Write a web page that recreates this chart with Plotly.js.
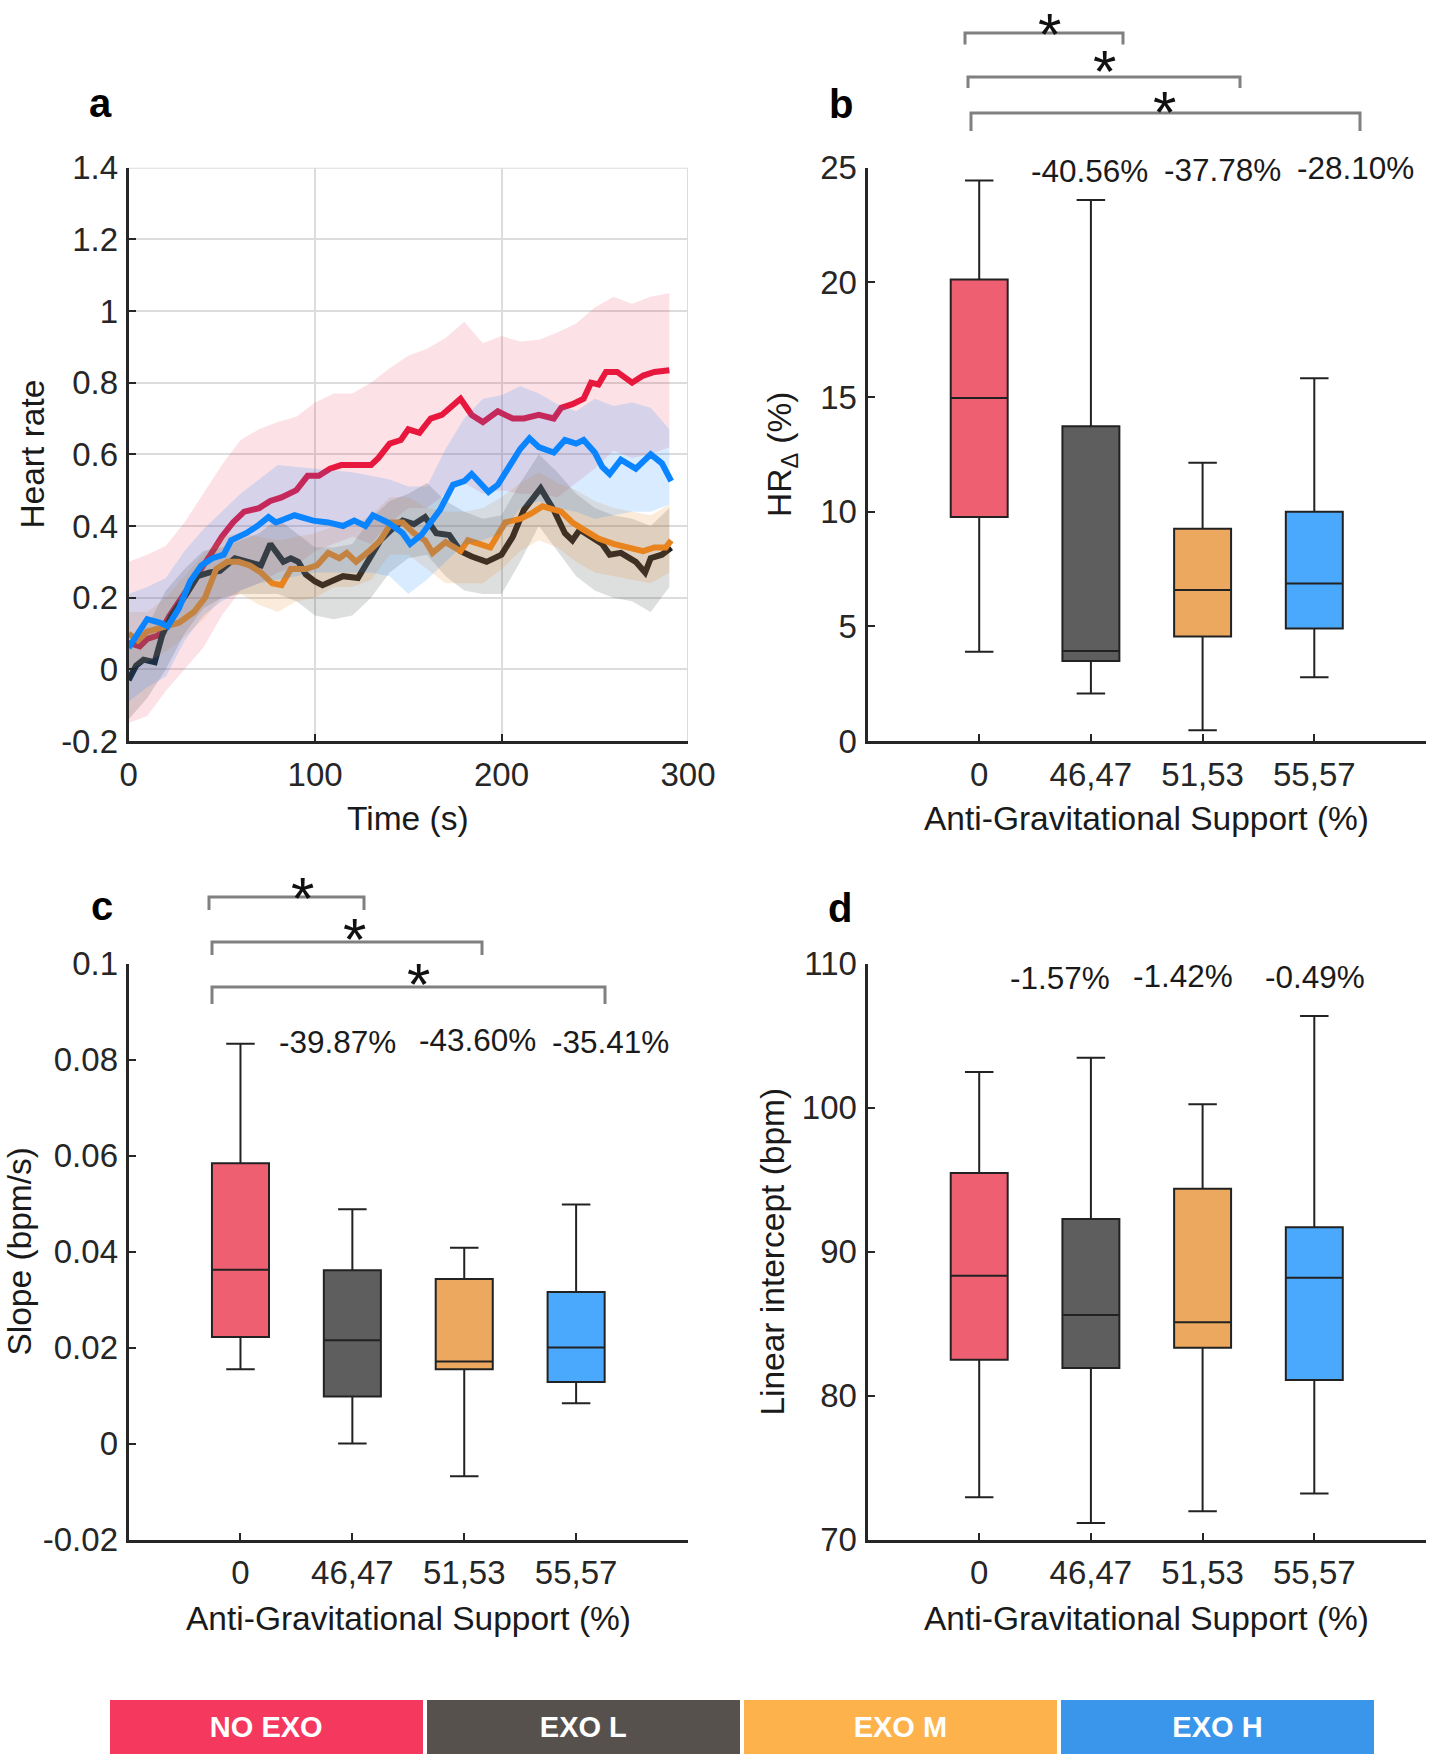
<!DOCTYPE html>
<html><head><meta charset="utf-8">
<script src="https://cdn.plot.ly/plotly-3.0.1.min.js"></script>
<style>html,body{margin:0;padding:0;background:#fff}#chart{width:1431px;height:1757px}</style>
</head><body><div id="chart"></div>
<script>
const W = 1431, H = 1757;

// ---------- Panel a: mean normalised heart rate over time ----------
const noExoT = [0,6,10,16,22,30,38,44,50,56,62,70,76,82,90,96,102,108,114,122,130,134,140,146,150,156,162,168,172,178,184,190,198,206,212,220,228,232,238,244,248,252,256,262,270,276,282,290];
const noExoY = [0.074,0.064,0.085,0.095,0.15,0.21,0.27,0.32,0.37,0.41,0.44,0.45,0.47,0.48,0.50,0.54,0.54,0.56,0.57,0.57,0.57,0.59,0.63,0.64,0.67,0.66,0.70,0.71,0.73,0.755,0.71,0.69,0.72,0.70,0.70,0.71,0.70,0.73,0.74,0.755,0.80,0.795,0.83,0.83,0.80,0.82,0.83,0.835];

const exoLT = [0,4,8,14,18,23,31,37,43,49,57,65,71,76,79,83,87,91,95,100,104,109,115,123,129,135,141,147,153,159,165,172,178,184,192,200,206,212,221,228,234,238,242,248,254,258,264,272,277,280,286,291];
const exoLY = [-0.03,0.01,0.027,0.02,0.095,0.15,0.21,0.26,0.27,0.275,0.31,0.30,0.29,0.35,0.33,0.30,0.31,0.30,0.265,0.245,0.235,0.245,0.26,0.255,0.31,0.36,0.39,0.415,0.405,0.425,0.38,0.375,0.33,0.315,0.30,0.32,0.37,0.445,0.505,0.445,0.38,0.36,0.39,0.37,0.35,0.32,0.325,0.30,0.27,0.31,0.32,0.34];

const exoMT = [0,5,10,19,27,35,41,47,53,59,65,71,77,82,87,95,101,107,113,117,122,129,135,141,147,153,159,163,170,178,182,188,194,202,210,216,222,232,238,244,252,260,268,276,282,288,291];
const exoMY = [0.10,0.08,0.105,0.12,0.13,0.16,0.20,0.28,0.30,0.30,0.29,0.27,0.24,0.235,0.28,0.28,0.29,0.325,0.31,0.325,0.30,0.33,0.36,0.41,0.41,0.38,0.36,0.325,0.355,0.33,0.36,0.35,0.34,0.41,0.42,0.435,0.455,0.44,0.41,0.39,0.365,0.35,0.34,0.33,0.34,0.34,0.36];

const exoHT = [0,4,10,17,21,27,33,39,45,51,55,63,69,75,79,89,99,107,115,121,127,131,139,147,151,157,163,167,174,180,184,188,193,198,204,210,215,220,228,234,240,244,250,254,258,264,272,280,286,291];
const exoHY = [0.06,0.095,0.14,0.13,0.12,0.17,0.245,0.29,0.31,0.32,0.36,0.38,0.40,0.425,0.41,0.43,0.415,0.41,0.40,0.415,0.40,0.43,0.41,0.38,0.35,0.375,0.415,0.445,0.515,0.525,0.545,0.52,0.495,0.515,0.565,0.615,0.645,0.62,0.605,0.64,0.63,0.64,0.605,0.565,0.545,0.585,0.56,0.60,0.575,0.525];

// shaded bands (upper / lower bounds)
const bandT = [0,10,20,30,40,50,60,70,80,90,100,110,120,130,140,150,160,170,180,190,200,210,220,230,240,250,260,270,280,290];
const noExoUp = [0.30,0.32,0.345,0.41,0.49,0.57,0.64,0.67,0.69,0.705,0.745,0.77,0.77,0.80,0.84,0.875,0.895,0.925,0.97,0.91,0.93,0.915,0.92,0.94,0.965,1.01,1.04,1.02,1.04,1.05];
const noExoLo = [-0.15,-0.13,-0.06,0.0,0.06,0.15,0.22,0.24,0.27,0.29,0.33,0.35,0.37,0.35,0.41,0.45,0.45,0.49,0.52,0.49,0.50,0.49,0.49,0.48,0.52,0.56,0.61,0.59,0.60,0.62];
const exoLUp = [0.08,0.12,0.22,0.28,0.33,0.34,0.36,0.38,0.42,0.38,0.34,0.34,0.35,0.42,0.47,0.49,0.52,0.47,0.44,0.42,0.43,0.52,0.60,0.55,0.49,0.45,0.43,0.42,0.40,0.45];
const exoLLo = [-0.14,-0.08,0.0,0.10,0.17,0.20,0.21,0.21,0.21,0.19,0.15,0.14,0.15,0.20,0.27,0.31,0.32,0.26,0.22,0.21,0.21,0.30,0.40,0.33,0.26,0.22,0.20,0.19,0.16,0.23];
const exoMUp = [0.16,0.16,0.20,0.26,0.32,0.37,0.38,0.37,0.36,0.37,0.38,0.40,0.40,0.43,0.48,0.48,0.45,0.44,0.44,0.45,0.48,0.52,0.55,0.52,0.50,0.47,0.45,0.44,0.43,0.46];
const exoMLo = [0.0,0.02,0.05,0.09,0.14,0.20,0.21,0.18,0.16,0.19,0.20,0.23,0.23,0.25,0.32,0.32,0.28,0.24,0.24,0.24,0.28,0.33,0.36,0.34,0.30,0.27,0.26,0.25,0.24,0.27];
const exoHUp = [0.21,0.23,0.255,0.33,0.39,0.44,0.49,0.53,0.57,0.565,0.56,0.555,0.55,0.54,0.53,0.51,0.51,0.615,0.70,0.755,0.765,0.79,0.77,0.74,0.72,0.755,0.735,0.745,0.73,0.67];
const exoHLo = [-0.09,-0.05,-0.02,0.08,0.15,0.19,0.22,0.24,0.25,0.26,0.27,0.27,0.27,0.27,0.26,0.21,0.25,0.30,0.35,0.36,0.38,0.45,0.47,0.45,0.44,0.42,0.43,0.44,0.44,0.46];

const timeTicks = [0,100,200,300];
const timeTickText = ['0','100','200','300'];
const hrTicks = [-0.2,0,0.2,0.4,0.6,0.8,1,1.2,1.4];
const hrTickText = ['-0.2','0','0.2','0.4','0.6','0.8','1','1.2','1.4'];

// ---------- Box plots ----------
const groups = ['NO EXO','EXO L','EXO M','EXO H'];
const supportPos = [1,2,3,4];
const supportLabels = ['0','46,47','51,53','55,57'];

const hrdLow  = [3.89, 2.07, 0.47, 2.78];
const hrdQ1   = [9.77, 3.49, 4.56, 4.91];
const hrdMed  = [14.96, 3.92, 6.58, 6.87];
const hrdQ3   = [20.13, 13.72, 9.26, 10.0];
const hrdHigh = [24.44, 23.59, 12.13, 15.82];
const hrdTicks = [0,5,10,15,20,25];
const hrdPct = ['-40.56%','-37.78%','-28.10%'];

const slopeLow  = [0.0155, 0.0, -0.0068, 0.0084];
const slopeQ1   = [0.0222, 0.0098, 0.0155, 0.0128];
const slopeMed  = [0.0362, 0.0215, 0.0171, 0.0200];
const slopeQ3   = [0.0584, 0.0361, 0.0343, 0.0316];
const slopeHigh = [0.0833, 0.0488, 0.0408, 0.0498];
const slopeTicks = [-0.02,0,0.02,0.04,0.06,0.08,0.1];
const slopeTickText = ['-0.02','0','0.02','0.04','0.06','0.08','0.1'];
const slopePct = ['-39.87%','-43.60%','-35.41%'];

const icLow  = [72.93, 71.15, 71.96, 73.2];
const icQ1   = [82.48, 81.92, 83.32, 81.08];
const icMed  = [88.33, 85.6, 85.1, 88.18];
const icQ3   = [95.46, 92.26, 94.37, 91.7];
const icHigh = [102.47, 103.46, 100.23, 106.36];
const icTicks = [70,80,90,100,110];
const icPct = ['-1.57%','-1.42%','-0.49%'];

// ---------- styling ----------
const lineColors = ['#E8173D','#1E2124','#E8831E','#0A84FF'];
const bandColors = ['rgba(232,23,61,0.13)','rgba(30,33,36,0.15)','rgba(232,131,30,0.16)','rgba(10,132,255,0.155)'];
const boxColors = ['#EE5F72','#5E5E5E','#ECA85E','#4AA9FC'];
const keyColors = ['#F5385E','#57514E','#FEB24C','#3996EA'];

const SANS = '"Liberation Sans", Arial, Helvetica, sans-serif';
const TXT = '#1a1a1a';
const TICK = 33, TITLE = 33.5, PCT = 31.5;

const px = x => x / W;
const py = y => 1 - y / H;

const traces = [];
const series = [
  {t: noExoT, y: noExoY, up: noExoUp, lo: noExoLo, c: 0},
  {t: exoLT, y: exoLY, up: exoLUp, lo: exoLLo, c: 1},
  {t: exoMT, y: exoMY, up: exoMUp, lo: exoMLo, c: 2},
  {t: exoHT, y: exoHY, up: exoHUp, lo: exoHLo, c: 3}
];
series.forEach(s => {
  traces.push({
    type: 'scatter', mode: 'lines', xaxis: 'x', yaxis: 'y',
    x: bandT.concat(bandT.slice().reverse()),
    y: s.up.concat(s.lo.slice().reverse()),
    fill: 'toself', fillcolor: bandColors[s.c],
    line: {color: 'rgba(0,0,0,0)', width: 0}, showlegend: false, hoverinfo: 'skip'
  });
  traces.push({
    type: 'scatter', mode: 'lines', xaxis: 'x', yaxis: 'y',
    x: s.t, y: s.y, line: {color: lineColors[s.c], width: 6},
    name: groups[s.c], showlegend: false
  });
});

function addBoxes(ax, ay, lo, q1, med, q3, hi) {
  for (let i = 0; i < 4; i++) {
    traces.push({
      type: 'box', xaxis: ax, yaxis: ay,
      x: [supportPos[i]], q1: [q1[i]], median: [med[i]], q3: [q3[i]],
      lowerfence: [lo[i]], upperfence: [hi[i]],
      width: 0.51, whiskerwidth: 0.5,
      fillcolor: boxColors[i], line: {color: '#222222', width: 2},
      boxpoints: false, name: groups[i], showlegend: false
    });
  }
}
addBoxes('x2','y2', hrdLow, hrdQ1, hrdMed, hrdQ3, hrdHigh);
addBoxes('x3','y3', slopeLow, slopeQ1, slopeMed, slopeQ3, slopeHigh);
addBoxes('x4','y4', icLow, icQ1, icMed, icQ3, icHigh);

// colour key along the bottom
traces.push({
  type: 'bar', xaxis: 'x5', yaxis: 'y5',
  x: [0,1,2,3], y: groups.map(() => 1), width: 0.988,
  marker: {color: keyColors, line: {width: 0}},
  text: groups, textposition: 'inside', insidetextanchor: 'middle',
  textfont: {family: SANS, size: 29, color: '#ffffff', weight: 'bold'},
  textangle: 0, showlegend: false, hoverinfo: 'skip'
});

const leftX = [px(128.6), px(688)];
const rightX = [px(867.5), px(1426)];
const topY = [py(741), py(167.7)];
const botY = [py(1539.5), py(963.7)];

function baseAxis(extra) {
  return Object.assign({
    showline: true, linecolor: '#262626', linewidth: 3,
    ticks: 'inside', ticklen: 7, tickwidth: 2, tickcolor: '#262626',
    tickfont: {family: SANS, size: TICK, color: '#262626'},
    zeroline: false, showgrid: false, fixedrange: true, tickmode: 'array'
  }, extra);
}
const XS = 2, YS = 1;

const layout = {
  width: W, height: H, margin: {l: 0, r: 0, t: 0, b: 0},
  paper_bgcolor: '#ffffff', plot_bgcolor: 'rgba(0,0,0,0)',
  showlegend: false, hovermode: false, bargap: 0,
  font: {family: SANS, color: TXT},
  xaxis: baseAxis({domain: leftX, anchor: 'y', range: [0,300], tickvals: timeTicks, ticktext: timeTickText,
    showgrid: true, gridcolor: '#dcdcdc', gridwidth: 2, ticklabelstandoff: XS}),
  yaxis: baseAxis({domain: topY, anchor: 'x', range: [-0.2,1.4], tickvals: hrTicks, ticktext: hrTickText,
    showgrid: true, gridcolor: '#dcdcdc', gridwidth: 2, ticklabelstandoff: YS}),
  xaxis2: baseAxis({domain: rightX, anchor: 'y2', range: [0,5], tickvals: supportPos, ticktext: supportLabels, ticklabelstandoff: XS}),
  yaxis2: baseAxis({domain: topY, anchor: 'x2', range: [0,25], tickvals: hrdTicks, ticktext: hrdTicks.map(String), ticklabelstandoff: YS}),
  xaxis3: baseAxis({domain: leftX, anchor: 'y3', range: [0,5], tickvals: supportPos, ticktext: supportLabels, ticklabelstandoff: XS}),
  yaxis3: baseAxis({domain: botY, anchor: 'x3', range: [-0.02,0.1], tickvals: slopeTicks, ticktext: slopeTickText, ticklabelstandoff: YS}),
  xaxis4: baseAxis({domain: rightX, anchor: 'y4', range: [0,5], tickvals: supportPos, ticktext: supportLabels, ticklabelstandoff: XS}),
  yaxis4: baseAxis({domain: botY, anchor: 'x4', range: [70,110], tickvals: icTicks, ticktext: icTicks.map(String), ticklabelstandoff: YS}),
  xaxis5: {domain: [px(107.7), px(1376)], anchor: 'y5', range: [-0.5,3.5], visible: false, fixedrange: true},
  yaxis5: {domain: [py(1754), py(1700)], anchor: 'x5', range: [0,1], visible: false, fixedrange: true},
  shapes: [],
  annotations: []
};

// grid lines at the top/right border of panel a
layout.shapes.push({type: 'line', xref: 'x', yref: 'y', x0: 0, x1: 300, y0: 1.4, y1: 1.4, line: {color: '#dcdcdc', width: 2}, layer: 'below'});
layout.shapes.push({type: 'line', xref: 'x', yref: 'y', x0: 300, x1: 300, y0: -0.2, y1: 1.4, line: {color: '#dcdcdc', width: 2}, layer: 'below'});

// significance brackets (pixel positions on the page)
const brackets = [
  [965,1123,33,44.5],[968,1240,77,88],[971,1360,113,131],
  [209,364,897,910],[212,482,942,955],[212,605,987,1004]
];
brackets.forEach(b => {
  const [x0,x1,y,yd] = b;
  layout.shapes.push({
    type: 'path', xref: 'paper', yref: 'paper',
    path: `M ${px(x0)} ${py(yd)} L ${px(x0)} ${py(y)} L ${px(x1)} ${py(y)} L ${px(x1)} ${py(yd)}`,
    line: {color: '#808080', width: 3}
  });
});
// stars: glyph centre positions; "*" sits ~0.325em below the top of its text box
const STAR = 60;
const stars = [[1049,19.5],[1104,56],[1164,97],[302,883],[354.5,924],[418.6,970]];
stars.forEach(s => {
  layout.annotations.push({xref: 'paper', yref: 'paper', x: px(s[0]), y: py(s[1] - 0.325 * STAR),
    text: '*', showarrow: false, xanchor: 'center', yanchor: 'top', borderpad: 0,
    font: {family: SANS, size: STAR, color: '#111'}});
});

function note(text, x, y, size, extra) {
  layout.annotations.push(Object.assign({xref: 'paper', yref: 'paper', x: px(x), y: py(y), text: text,
    showarrow: false, xanchor: 'center', yanchor: 'middle', borderpad: 0,
    font: {family: SANS, size: size, color: TXT}}, extra || {}));
}
// percentage changes
const hrdPctPos = [[1089,171],[1222,170],[1355,168]];
const slopePctPos = [[337.6,1042],[477.4,1040],[610.4,1042]];
const icPctPos = [[1060,978],[1183,976],[1315,977]];
hrdPct.forEach((t,i) => note(t, hrdPctPos[i][0], hrdPctPos[i][1], PCT));
slopePct.forEach((t,i) => note(t, slopePctPos[i][0], slopePctPos[i][1], PCT));
icPct.forEach((t,i) => note(t, icPctPos[i][0], icPctPos[i][1], PCT));

// axis titles
note('Heart rate', 32.2, 454.4, TITLE, {textangle: -90});
note('Time (s)', 408.3, 818, TITLE);
note('HR<sub>Δ</sub> (%)', 782.6, 454.4, TITLE, {textangle: -90});
note('Anti-Gravitational Support (%)', 1146.8, 818, TITLE);
note('Slope (bpm/s)', 20, 1251.6, TITLE, {textangle: -90});
note('Anti-Gravitational Support (%)', 408.3, 1618, TITLE);
note('Linear intercept (bpm)', 773, 1251.6, TITLE, {textangle: -90});
note('Anti-Gravitational Support (%)', 1146.8, 1618, TITLE);

// panel letters
const letterFont = {family: SANS, size: 40, color: '#000', weight: 'bold'};
[['a',100.6,103],['b',841,104],['c',101.7,906],['d',840,907.5]].forEach(l => {
  layout.annotations.push({xref: 'paper', yref: 'paper', x: px(l[1]), y: py(l[2]), text: '<b>' + l[0] + '</b>',
    showarrow: false, xanchor: 'center', yanchor: 'middle', font: letterFont});
});

Plotly.newPlot('chart', traces, layout, {displayModeBar: false, staticPlot: true});
</script>
</body></html>
